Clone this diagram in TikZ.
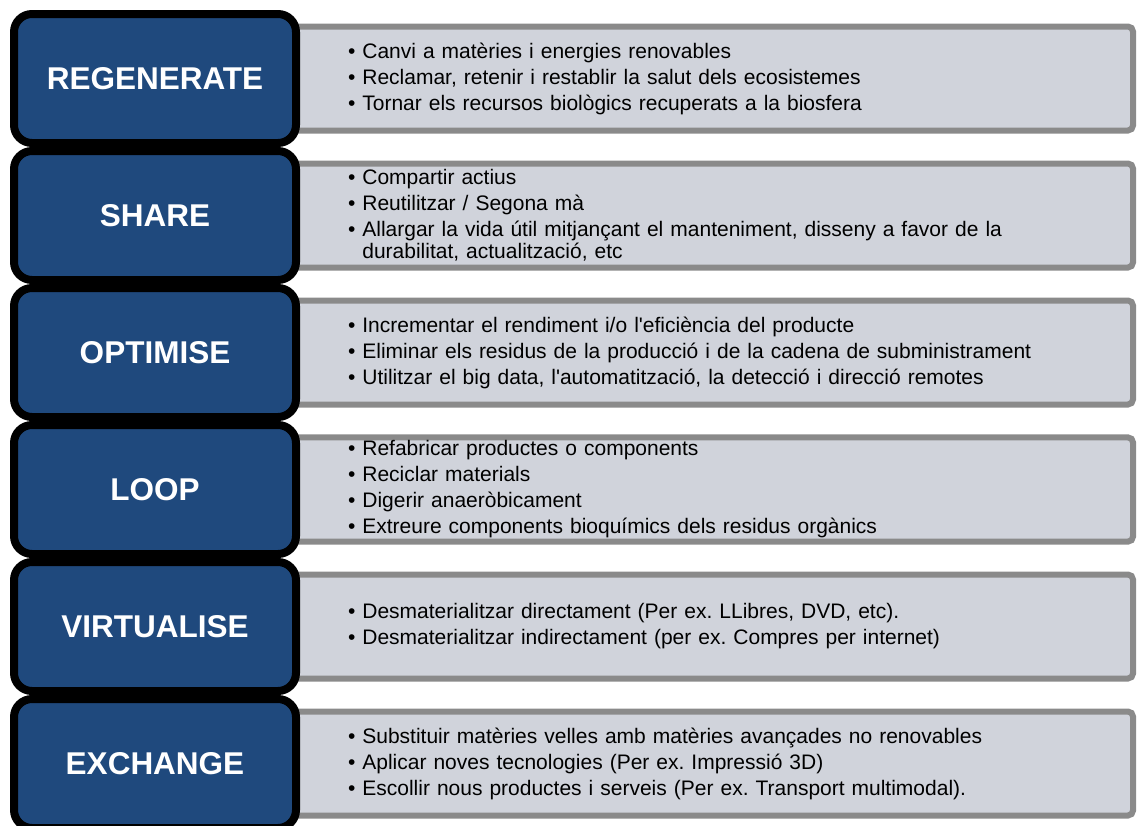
\documentclass[tikz,border=0pt]{standalone}
\usepackage{fontspec}
\setmainfont{Liberation Sans}[Ligatures=TeXOff]
\usetikzlibrary{positioning, backgrounds}
\definecolor{stepblue}{HTML}{1F497D}
\definecolor{notegray}{HTML}{D0D3DB}
\definecolor{noteline}{HTML}{8A8A8A}
\newcommand{\blt}{\textbullet\ }
\frenchspacing
\tikzset
    { stage/.style =
        { draw = black, line width = 8pt, fill = stepblue
        , rounded corners = 18pt
        , minimum width = 282pt, minimum height = 129pt
        , text = white, font = \fontsize{31.5}{36}\selectfont\bfseries
        }
    , notes/.style =
        { draw = noteline, line width = 6pt, fill = notegray
        , rounded corners = 5pt, anchor = west
        , minimum width = 848pt, minimum height = 104pt
        , inner xsep = 63pt, text width = 722pt, align = left
        , font = \fontsize{21}{26}\selectfont
        }
    }

\begin{document}
\begin{tikzpicture}[x=1pt, y=-1pt]

    \useasboundingbox (0, 0) rectangle (1137, 825);

    \node[stage] (regen) at (155, 78.5) {REGENERATE};
    \node[stage, below=0pt of regen] (share) {SHARE};
    \node[stage, below=0pt of share] (optim) {OPTIMISE};
    \node[stage, below=0pt of optim] (loop) {LOOP};
    \node[stage, below=0pt of loop] (virtual) {VIRTUALISE};
    \node[stage, below=0pt of virtual] (exch) {EXCHANGE};

    \begin{scope}[on background layer]
        \node[notes] (regen-notes) at ([xshift=-18pt]regen.east)
            {\blt Canvi a matèries i energies renovables\\
             \blt Reclamar, retenir i restablir la salut dels ecosistemes\\
             \blt Tornar els recursos biològics recuperats a la biosfera};
        \node[notes] (share-notes) at ([xshift=-18pt]share.east)
            {\blt Compartir actius\\
             \blt Reutilitzar / Segona mà\\
             \blt Allargar la vida útil mitjançant el manteniment, disseny a favor de la\\[-4pt]
             \hphantom{\blt}durabilitat, actualització, etc};
        \node[notes] (optim-notes) at ([xshift=-18pt]optim.east)
            {\blt Incrementar el rendiment i/o l'eficiència del producte\\
             \blt Eliminar els residus de la producció i de la cadena de subministrament\\
             \blt Utilitzar el big data, l'automatització, la detecció i direcció remotes};
        \node[notes] (loop-notes) at ([xshift=-18pt]loop.east)
            {\blt Refabricar productes o components\\
             \blt Reciclar materials\\
             \blt Digerir anaeròbicament\\
             \blt Extreure components bioquímics dels residus orgànics};
        \node[notes] (virtual-notes) at ([xshift=-18pt]virtual.east)
            {\blt Desmaterialitzar directament (Per ex. LLibres, DVD, etc).\\
             \blt Desmaterialitzar indirectament (per ex. Compres per internet)};
        \node[notes] (exch-notes) at ([xshift=-18pt]exch.east)
            {\blt Substituir matèries velles amb matèries avançades no renovables\\
             \blt Aplicar noves tecnologies (Per ex. Impressió 3D)\\
             \blt Escollir nous productes i serveis (Per ex. Transport multimodal).};
    \end{scope}

\end{tikzpicture}
\end{document}
